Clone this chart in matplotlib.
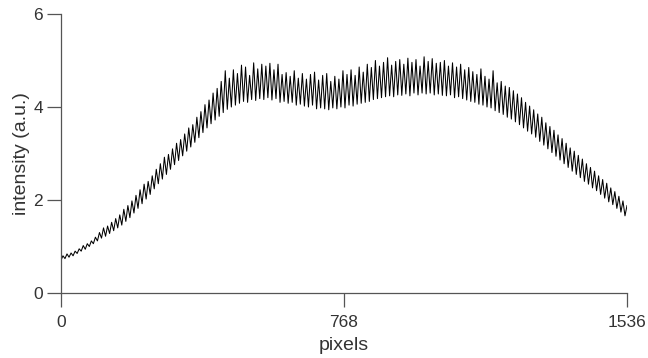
import numpy as np
import matplotlib.pyplot as plt

plt.rcParams['font.family'] = ['Liberation Sans', 'DejaVu Sans']

# per-cycle maxima / minima of the fringe pattern
peaks = [
    0.80, 0.84, 0.86, 0.90, 0.95, 1.02, 1.06, 1.12, 1.20, 1.30,
    1.40, 1.44, 1.52, 1.60, 1.68, 1.80, 1.88, 1.98, 2.10, 2.22,
    2.34, 2.40, 2.52, 2.66, 2.78, 2.92, 2.98, 3.10, 3.22, 3.30,
    3.42, 3.55, 3.62, 3.78, 3.90, 4.05, 4.15, 4.30, 4.40, 4.55,
    4.78, 4.62, 4.80, 4.72, 4.90, 4.86, 4.68, 4.95, 4.82, 4.92,
    4.88, 4.94, 4.80, 4.92, 4.70, 4.74, 4.66, 4.78, 4.62, 4.72,
    4.60, 4.70, 4.75, 4.58, 4.68, 4.72, 4.55, 4.66, 4.60, 4.78,
    4.70, 4.80, 4.68, 4.86, 4.75, 4.92, 4.85, 5.00, 4.88, 4.96,
    5.06, 4.90, 4.98, 5.02, 4.92, 5.05, 4.96, 5.02, 4.88, 5.08,
    4.98, 5.04, 4.94, 4.96, 5.00, 4.88, 4.95, 4.86, 4.92, 4.80,
    4.85, 4.76, 4.70, 4.82, 4.66, 4.60, 4.78, 4.52, 4.55, 4.45,
    4.42, 4.35, 4.28, 4.20, 4.10, 4.02, 3.94, 3.85, 3.78, 3.66,
    3.58, 3.50, 3.40, 3.32, 3.22, 3.12, 3.05, 2.96, 2.88, 2.78,
    2.70, 2.62, 2.52, 2.44, 2.36, 2.26, 2.18, 2.08, 1.98, 1.88,
]
troughs = [
    0.70, 0.74, 0.77, 0.80, 0.85, 0.90, 0.94, 1.00, 1.06, 1.12,
    1.18, 1.22, 1.28, 1.34, 1.40, 1.46, 1.54, 1.62, 1.72, 1.82,
    1.92, 2.02, 2.12, 2.24, 2.35, 2.45, 2.55, 2.66, 2.76, 2.85,
    2.95, 3.05, 3.14, 3.24, 3.34, 3.45, 3.55, 3.64, 3.72, 3.80,
    3.88, 3.95, 4.00, 4.04, 4.08, 4.12, 4.10, 4.16, 4.14, 4.18,
    4.16, 4.20, 4.15, 4.18, 4.10, 4.12, 4.08, 4.10, 4.04, 4.06,
    4.02, 4.00, 4.04, 3.96, 3.98, 3.96, 3.94, 3.98, 3.96, 4.00,
    3.98, 4.04, 4.02, 4.06, 4.08, 4.10, 4.12, 4.16, 4.18, 4.20,
    4.22, 4.24, 4.22, 4.26, 4.25, 4.28, 4.24, 4.30, 4.26, 4.30,
    4.28, 4.30, 4.26, 4.28, 4.25, 4.24, 4.26, 4.20, 4.22, 4.18,
    4.15, 4.12, 4.10, 4.06, 4.04, 4.00, 3.98, 3.92, 3.88, 3.84,
    3.78, 3.74, 3.68, 3.62, 3.55, 3.48, 3.42, 3.35, 3.26, 3.18,
    3.10, 3.02, 2.94, 2.86, 2.78, 2.70, 2.62, 2.55, 2.48, 2.40,
    2.34, 2.26, 2.20, 2.12, 2.04, 1.96, 1.90, 1.82, 1.74, 1.66,
]

n_pix = 1536
x_ticks = [0, 768, 1536]
y_ticks = [0, 2, 4, 6]

# interleave minima and maxima into one trace
signal = np.empty(2 * len(peaks))
signal[0::2] = troughs
signal[1::2] = peaks
x = np.linspace(0, n_pix, len(signal))

fig = plt.figure(figsize=(6.48, 3.58), dpi=100)
ax = fig.add_axes([0.094, 0.1816, 0.8736, 0.7793])
ax.plot(x, signal, color='black', lw=0.75)

ax.set_xlim(0, n_pix)
ax.set_ylim(0, 6)
ax.set_xticks(x_ticks)
ax.set_yticks(y_ticks)

for side in ['top', 'right']:
    ax.spines[side].set_visible(False)
for side in ['left', 'bottom']:
    ax.spines[side].set_color('#555555')
    ax.spines[side].set_linewidth(0.9)

ax.tick_params(axis='both', direction='out', length=10, width=0.9,
               color='#555555', labelsize=12.5, labelcolor='#333333')
ax.tick_params(axis='x', pad=6)
ax.tick_params(axis='y', pad=3)

ax.set_xlabel('pixels', fontsize=14, color='#333333', labelpad=5)
ax.set_ylabel('intensity (a.u.)', fontsize=14, color='#333333', labelpad=2)

fig.savefig('out.png', dpi=100)
